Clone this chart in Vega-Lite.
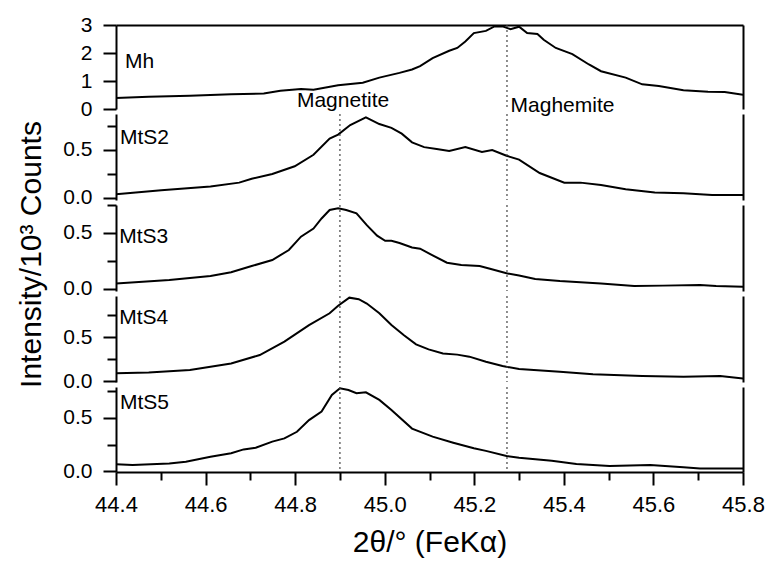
{
  "$schema": "https://vega.github.io/schema/vega-lite/v6.json",
  "background": "white",
  "padding": {"left": 16, "top": 14, "right": 5, "bottom": 5},
  "bounds": "flush",
  "spacing": 5,
  "datasets": {
    "xrd": [
      {"sample": "Mh", "theta": 44.400, "intensity": 0.39},
      {"sample": "Mh", "theta": 44.473, "intensity": 0.44},
      {"sample": "Mh", "theta": 44.565, "intensity": 0.47},
      {"sample": "Mh", "theta": 44.657, "intensity": 0.53},
      {"sample": "Mh", "theta": 44.730, "intensity": 0.55},
      {"sample": "Mh", "theta": 44.767, "intensity": 0.65},
      {"sample": "Mh", "theta": 44.813, "intensity": 0.71},
      {"sample": "Mh", "theta": 44.841, "intensity": 0.69},
      {"sample": "Mh", "theta": 44.896, "intensity": 0.85},
      {"sample": "Mh", "theta": 44.951, "intensity": 0.94},
      {"sample": "Mh", "theta": 44.988, "intensity": 1.12},
      {"sample": "Mh", "theta": 45.033, "intensity": 1.29},
      {"sample": "Mh", "theta": 45.061, "intensity": 1.41},
      {"sample": "Mh", "theta": 45.079, "intensity": 1.53},
      {"sample": "Mh", "theta": 45.107, "intensity": 1.82},
      {"sample": "Mh", "theta": 45.144, "intensity": 2.08},
      {"sample": "Mh", "theta": 45.162, "intensity": 2.18},
      {"sample": "Mh", "theta": 45.180, "intensity": 2.41},
      {"sample": "Mh", "theta": 45.199, "intensity": 2.71},
      {"sample": "Mh", "theta": 45.226, "intensity": 2.79},
      {"sample": "Mh", "theta": 45.245, "intensity": 2.95},
      {"sample": "Mh", "theta": 45.263, "intensity": 2.95},
      {"sample": "Mh", "theta": 45.281, "intensity": 2.85},
      {"sample": "Mh", "theta": 45.300, "intensity": 2.94},
      {"sample": "Mh", "theta": 45.318, "intensity": 2.71},
      {"sample": "Mh", "theta": 45.341, "intensity": 2.68},
      {"sample": "Mh", "theta": 45.355, "intensity": 2.47},
      {"sample": "Mh", "theta": 45.382, "intensity": 2.18},
      {"sample": "Mh", "theta": 45.419, "intensity": 1.96},
      {"sample": "Mh", "theta": 45.456, "intensity": 1.59},
      {"sample": "Mh", "theta": 45.483, "intensity": 1.35},
      {"sample": "Mh", "theta": 45.538, "intensity": 1.12},
      {"sample": "Mh", "theta": 45.575, "intensity": 0.88},
      {"sample": "Mh", "theta": 45.612, "intensity": 0.82},
      {"sample": "Mh", "theta": 45.667, "intensity": 0.67},
      {"sample": "Mh", "theta": 45.722, "intensity": 0.62},
      {"sample": "Mh", "theta": 45.759, "intensity": 0.61},
      {"sample": "Mh", "theta": 45.800, "intensity": 0.51},

      {"sample": "MtS2", "theta": 44.400, "intensity": 0.04},
      {"sample": "MtS2", "theta": 44.501, "intensity": 0.08},
      {"sample": "MtS2", "theta": 44.611, "intensity": 0.12},
      {"sample": "MtS2", "theta": 44.675, "intensity": 0.16},
      {"sample": "MtS2", "theta": 44.703, "intensity": 0.20},
      {"sample": "MtS2", "theta": 44.749, "intensity": 0.25},
      {"sample": "MtS2", "theta": 44.799, "intensity": 0.33},
      {"sample": "MtS2", "theta": 44.841, "intensity": 0.45},
      {"sample": "MtS2", "theta": 44.877, "intensity": 0.62},
      {"sample": "MtS2", "theta": 44.896, "intensity": 0.66},
      {"sample": "MtS2", "theta": 44.923, "intensity": 0.76},
      {"sample": "MtS2", "theta": 44.958, "intensity": 0.84},
      {"sample": "MtS2", "theta": 44.988, "intensity": 0.77},
      {"sample": "MtS2", "theta": 45.015, "intensity": 0.73},
      {"sample": "MtS2", "theta": 45.038, "intensity": 0.67},
      {"sample": "MtS2", "theta": 45.061, "intensity": 0.58},
      {"sample": "MtS2", "theta": 45.088, "intensity": 0.53},
      {"sample": "MtS2", "theta": 45.116, "intensity": 0.51},
      {"sample": "MtS2", "theta": 45.144, "intensity": 0.49},
      {"sample": "MtS2", "theta": 45.180, "intensity": 0.53},
      {"sample": "MtS2", "theta": 45.217, "intensity": 0.48},
      {"sample": "MtS2", "theta": 45.240, "intensity": 0.50},
      {"sample": "MtS2", "theta": 45.272, "intensity": 0.44},
      {"sample": "MtS2", "theta": 45.300, "intensity": 0.40},
      {"sample": "MtS2", "theta": 45.346, "intensity": 0.26},
      {"sample": "MtS2", "theta": 45.401, "intensity": 0.16},
      {"sample": "MtS2", "theta": 45.437, "intensity": 0.16},
      {"sample": "MtS2", "theta": 45.483, "intensity": 0.135},
      {"sample": "MtS2", "theta": 45.538, "intensity": 0.09},
      {"sample": "MtS2", "theta": 45.603, "intensity": 0.056},
      {"sample": "MtS2", "theta": 45.667, "intensity": 0.05},
      {"sample": "MtS2", "theta": 45.731, "intensity": 0.03},
      {"sample": "MtS2", "theta": 45.800, "intensity": 0.03},

      {"sample": "MtS3", "theta": 44.400, "intensity": 0.05},
      {"sample": "MtS3", "theta": 44.519, "intensity": 0.08},
      {"sample": "MtS3", "theta": 44.611, "intensity": 0.116},
      {"sample": "MtS3", "theta": 44.657, "intensity": 0.149},
      {"sample": "MtS3", "theta": 44.703, "intensity": 0.205},
      {"sample": "MtS3", "theta": 44.749, "intensity": 0.259},
      {"sample": "MtS3", "theta": 44.786, "intensity": 0.348},
      {"sample": "MtS3", "theta": 44.813, "intensity": 0.467},
      {"sample": "MtS3", "theta": 44.841, "intensity": 0.54},
      {"sample": "MtS3", "theta": 44.859, "intensity": 0.63},
      {"sample": "MtS3", "theta": 44.877, "intensity": 0.705},
      {"sample": "MtS3", "theta": 44.896, "intensity": 0.72},
      {"sample": "MtS3", "theta": 44.914, "intensity": 0.705},
      {"sample": "MtS3", "theta": 44.937, "intensity": 0.675},
      {"sample": "MtS3", "theta": 44.960, "intensity": 0.57},
      {"sample": "MtS3", "theta": 44.983, "intensity": 0.476},
      {"sample": "MtS3", "theta": 45.001, "intensity": 0.43},
      {"sample": "MtS3", "theta": 45.015, "intensity": 0.43},
      {"sample": "MtS3", "theta": 45.033, "intensity": 0.41},
      {"sample": "MtS3", "theta": 45.061, "intensity": 0.37},
      {"sample": "MtS3", "theta": 45.079, "intensity": 0.36},
      {"sample": "MtS3", "theta": 45.107, "intensity": 0.30},
      {"sample": "MtS3", "theta": 45.139, "intensity": 0.235},
      {"sample": "MtS3", "theta": 45.171, "intensity": 0.214},
      {"sample": "MtS3", "theta": 45.212, "intensity": 0.205},
      {"sample": "MtS3", "theta": 45.235, "intensity": 0.18},
      {"sample": "MtS3", "theta": 45.272, "intensity": 0.14},
      {"sample": "MtS3", "theta": 45.300, "intensity": 0.12},
      {"sample": "MtS3", "theta": 45.336, "intensity": 0.09},
      {"sample": "MtS3", "theta": 45.391, "intensity": 0.071},
      {"sample": "MtS3", "theta": 45.483, "intensity": 0.05},
      {"sample": "MtS3", "theta": 45.557, "intensity": 0.027},
      {"sample": "MtS3", "theta": 45.621, "intensity": 0.03},
      {"sample": "MtS3", "theta": 45.704, "intensity": 0.036},
      {"sample": "MtS3", "theta": 45.740, "intensity": 0.027},
      {"sample": "MtS3", "theta": 45.800, "intensity": 0.02},

      {"sample": "MtS4", "theta": 44.400, "intensity": 0.087},
      {"sample": "MtS4", "theta": 44.473, "intensity": 0.098},
      {"sample": "MtS4", "theta": 44.565, "intensity": 0.125},
      {"sample": "MtS4", "theta": 44.657, "intensity": 0.20},
      {"sample": "MtS4", "theta": 44.721, "intensity": 0.295},
      {"sample": "MtS4", "theta": 44.776, "intensity": 0.447},
      {"sample": "MtS4", "theta": 44.831, "intensity": 0.636},
      {"sample": "MtS4", "theta": 44.877, "intensity": 0.77},
      {"sample": "MtS4", "theta": 44.896, "intensity": 0.856},
      {"sample": "MtS4", "theta": 44.921, "intensity": 0.947},
      {"sample": "MtS4", "theta": 44.942, "intensity": 0.93},
      {"sample": "MtS4", "theta": 44.960, "intensity": 0.88},
      {"sample": "MtS4", "theta": 44.988, "intensity": 0.77},
      {"sample": "MtS4", "theta": 45.015, "intensity": 0.636},
      {"sample": "MtS4", "theta": 45.043, "intensity": 0.52},
      {"sample": "MtS4", "theta": 45.070, "intensity": 0.417},
      {"sample": "MtS4", "theta": 45.098, "intensity": 0.36},
      {"sample": "MtS4", "theta": 45.130, "intensity": 0.314},
      {"sample": "MtS4", "theta": 45.162, "intensity": 0.30},
      {"sample": "MtS4", "theta": 45.189, "intensity": 0.277},
      {"sample": "MtS4", "theta": 45.226, "intensity": 0.22},
      {"sample": "MtS4", "theta": 45.263, "intensity": 0.17},
      {"sample": "MtS4", "theta": 45.300, "intensity": 0.136},
      {"sample": "MtS4", "theta": 45.391, "intensity": 0.106},
      {"sample": "MtS4", "theta": 45.465, "intensity": 0.076},
      {"sample": "MtS4", "theta": 45.575, "intensity": 0.057},
      {"sample": "MtS4", "theta": 45.667, "intensity": 0.05},
      {"sample": "MtS4", "theta": 45.749, "intensity": 0.057},
      {"sample": "MtS4", "theta": 45.800, "intensity": 0.03},

      {"sample": "MtS5", "theta": 44.400, "intensity": 0.063},
      {"sample": "MtS5", "theta": 44.437, "intensity": 0.057},
      {"sample": "MtS5", "theta": 44.519, "intensity": 0.072},
      {"sample": "MtS5", "theta": 44.556, "intensity": 0.088},
      {"sample": "MtS5", "theta": 44.611, "intensity": 0.135},
      {"sample": "MtS5", "theta": 44.657, "intensity": 0.167},
      {"sample": "MtS5", "theta": 44.685, "intensity": 0.204},
      {"sample": "MtS5", "theta": 44.712, "intensity": 0.22},
      {"sample": "MtS5", "theta": 44.749, "intensity": 0.277},
      {"sample": "MtS5", "theta": 44.776, "intensity": 0.308},
      {"sample": "MtS5", "theta": 44.804, "intensity": 0.37},
      {"sample": "MtS5", "theta": 44.831, "intensity": 0.48},
      {"sample": "MtS5", "theta": 44.859, "intensity": 0.56},
      {"sample": "MtS5", "theta": 44.882, "intensity": 0.717},
      {"sample": "MtS5", "theta": 44.900, "intensity": 0.78},
      {"sample": "MtS5", "theta": 44.919, "intensity": 0.764},
      {"sample": "MtS5", "theta": 44.937, "intensity": 0.733},
      {"sample": "MtS5", "theta": 44.958, "intensity": 0.742},
      {"sample": "MtS5", "theta": 44.988, "intensity": 0.67},
      {"sample": "MtS5", "theta": 45.015, "intensity": 0.575},
      {"sample": "MtS5", "theta": 45.061, "intensity": 0.40},
      {"sample": "MtS5", "theta": 45.107, "intensity": 0.324},
      {"sample": "MtS5", "theta": 45.153, "intensity": 0.267},
      {"sample": "MtS5", "theta": 45.199, "intensity": 0.214},
      {"sample": "MtS5", "theta": 45.226, "intensity": 0.19},
      {"sample": "MtS5", "theta": 45.272, "intensity": 0.142},
      {"sample": "MtS5", "theta": 45.300, "intensity": 0.126},
      {"sample": "MtS5", "theta": 45.373, "intensity": 0.097},
      {"sample": "MtS5", "theta": 45.428, "intensity": 0.066},
      {"sample": "MtS5", "theta": 45.502, "intensity": 0.047},
      {"sample": "MtS5", "theta": 45.593, "intensity": 0.057},
      {"sample": "MtS5", "theta": 45.667, "intensity": 0.035},
      {"sample": "MtS5", "theta": 45.704, "intensity": 0.025},
      {"sample": "MtS5", "theta": 45.800, "intensity": 0.025}
    ]
  },
  "vconcat": [
    {
      "width": 627, "height": 84,
      "resolve": {"axis": {"x": "independent", "y": "independent"}},
      "layer": [
        {
          "data": {"name": "xrd"},
          "transform": [{"filter": "datum.sample === 'Mh'"}],
          "mark": {"type": "line", "color": "black", "strokeWidth": 2, "clip": true},
          "encoding": {
            "x": {"field": "theta", "type": "quantitative", "scale": {"domain": [44.4, 45.8], "nice": false, "zero": false},
                  "axis": {"orient": "top", "ticks": false, "labels": false, "domain": true, "title": null}},
            "y": {"field": "intensity", "type": "quantitative", "scale": {"domain": [0, 3], "nice": false, "zero": false},
                  "axis": {"orient": "left", "values": [0, 1, 2, 3], "format": "d", "tickSize": 13, "labelPadding": 11, "title": null}}
          }
        },
        {
          "data": {"values": [{}]},
          "mark": {"type": "text", "text": "Mh", "align": "left", "baseline": "middle"},
          "encoding": {
            "x": {"datum": 44.42, "type": "quantitative", "axis": null},
            "y": {"datum": 1.68, "type": "quantitative",
                  "axis": {"orient": "right", "ticks": false, "labels": false, "domain": true, "title": null}}
          }
        },
        {
          "data": {"values": [{}]},
          "mark": {"type": "rule", "color": "#444", "strokeWidth": 1.2, "strokeDash": [2, 3]},
          "encoding": {"x": {"datum": 45.273, "type": "quantitative", "axis": null}}
        },
        {
          "data": {"values": [{}]},
          "mark": {"type": "text", "text": "Magnetite", "align": "left", "baseline": "middle"},
          "encoding": {
            "x": {"datum": 44.804, "type": "quantitative", "axis": null},
            "y": {"datum": 0.28, "type": "quantitative", "axis": null}
          }
        },
        {
          "data": {"values": [{}]},
          "mark": {"type": "text", "text": "Maghemite", "align": "left", "baseline": "middle"},
          "encoding": {
            "x": {"datum": 45.281, "type": "quantitative", "axis": null},
            "y": {"datum": 0.11, "type": "quantitative", "axis": null}
          }
        }
      ]
    },
    {
      "width": 627, "height": 86,
      "resolve": {"axis": {"x": "independent", "y": "independent"}},
      "layer": [
        {
          "data": {"name": "xrd"},
          "transform": [{"filter": "datum.sample === 'MtS2'"}],
          "mark": {"type": "line", "color": "black", "strokeWidth": 2, "clip": true},
          "encoding": {
            "x": {"field": "theta", "type": "quantitative", "scale": {"domain": [44.4, 45.8], "nice": false, "zero": false}, "axis": null},
            "y": {"field": "intensity", "type": "quantitative", "scale": {"domain": [-0.021, 0.875], "nice": false, "zero": false},
                  "axis": {"orient": "left", "values": [0, 0.5], "format": ".1f", "tickSize": 13, "labelPadding": 11, "title": null}}
          }
        },
        {
          "data": {"values": [{}]},
          "mark": {"type": "point", "opacity": 0},
          "encoding": {
            "y": {"datum": 0.25, "type": "quantitative",
                  "axis": {"orient": "left", "values": [0.25, 0.75], "tickSize": 9, "labels": false, "domain": false, "title": null}}
          }
        },
        {
          "data": {"values": [{}]},
          "mark": {"type": "text", "text": "MtS2", "align": "left", "baseline": "middle"},
          "encoding": {
            "x": {"datum": 44.409, "type": "quantitative", "axis": null},
            "y": {"datum": 0.625, "type": "quantitative",
                  "axis": {"orient": "right", "ticks": false, "labels": false, "domain": true, "title": null}}
          }
        },
        {
          "data": {"values": [{}]},
          "mark": {"type": "rule", "color": "#444", "strokeWidth": 1.2, "strokeDash": [2, 3]},
          "encoding": {"x": {"datum": 44.9, "type": "quantitative", "axis": null}}
        },
        {
          "data": {"values": [{}]},
          "mark": {"type": "rule", "color": "#444", "strokeWidth": 1.2, "strokeDash": [2, 3]},
          "encoding": {"x": {"datum": 45.273, "type": "quantitative", "axis": null}}
        }
      ]
    },
    {
      "width": 627, "height": 86,
      "resolve": {"axis": {"x": "independent", "y": "independent"}},
      "layer": [
        {
          "data": {"name": "xrd"},
          "transform": [{"filter": "datum.sample === 'MtS3'"}],
          "mark": {"type": "line", "color": "black", "strokeWidth": 2, "clip": true},
          "encoding": {
            "x": {"field": "theta", "type": "quantitative", "scale": {"domain": [44.4, 45.8], "nice": false, "zero": false}, "axis": null},
            "y": {"field": "intensity", "type": "quantitative", "scale": {"domain": [-0.018, 0.75], "nice": false, "zero": false},
                  "axis": {"orient": "left", "values": [0, 0.5], "format": ".1f", "tickSize": 13, "labelPadding": 11,
                           "title": "Intensity/10³ Counts", "titleFontSize": 30, "titlePadding": 16, "titleY": 49}}
          }
        },
        {
          "data": {"values": [{}]},
          "mark": {"type": "point", "opacity": 0},
          "encoding": {
            "y": {"datum": 0.25, "type": "quantitative",
                  "axis": {"orient": "left", "values": [0.25, 0.75], "tickSize": 9, "labels": false, "domain": false, "title": null}}
          }
        },
        {
          "data": {"values": [{}]},
          "mark": {"type": "text", "text": "MtS3", "align": "left", "baseline": "middle"},
          "encoding": {
            "x": {"datum": 44.407, "type": "quantitative", "axis": null},
            "y": {"datum": 0.46, "type": "quantitative",
                  "axis": {"orient": "right", "ticks": false, "labels": false, "domain": true, "title": null}}
          }
        },
        {
          "data": {"values": [{}]},
          "mark": {"type": "rule", "color": "#444", "strokeWidth": 1.2, "strokeDash": [2, 3]},
          "encoding": {"x": {"datum": 44.9, "type": "quantitative", "axis": null}}
        },
        {
          "data": {"values": [{}]},
          "mark": {"type": "rule", "color": "#444", "strokeWidth": 1.2, "strokeDash": [2, 3]},
          "encoding": {"x": {"datum": 45.273, "type": "quantitative", "axis": null}}
        }
      ]
    },
    {
      "width": 627, "height": 86,
      "resolve": {"axis": {"x": "independent", "y": "independent"}},
      "layer": [
        {
          "data": {"name": "xrd"},
          "transform": [{"filter": "datum.sample === 'MtS4'"}],
          "mark": {"type": "line", "color": "black", "strokeWidth": 2, "clip": true},
          "encoding": {
            "x": {"field": "theta", "type": "quantitative", "scale": {"domain": [44.4, 45.8], "nice": false, "zero": false}, "axis": null},
            "y": {"field": "intensity", "type": "quantitative", "scale": {"domain": [-0.011, 0.966], "nice": false, "zero": false},
                  "axis": {"orient": "left", "values": [0, 0.5], "format": ".1f", "tickSize": 13, "labelPadding": 11, "title": null}}
          }
        },
        {
          "data": {"values": [{}]},
          "mark": {"type": "point", "opacity": 0},
          "encoding": {
            "y": {"datum": 0.25, "type": "quantitative",
                  "axis": {"orient": "left", "values": [0.25, 0.75], "tickSize": 9, "labels": false, "domain": false, "title": null}}
          }
        },
        {
          "data": {"values": [{}]},
          "mark": {"type": "text", "text": "MtS4", "align": "left", "baseline": "middle"},
          "encoding": {
            "x": {"datum": 44.407, "type": "quantitative", "axis": null},
            "y": {"datum": 0.716, "type": "quantitative",
                  "axis": {"orient": "right", "ticks": false, "labels": false, "domain": true, "title": null}}
          }
        },
        {
          "data": {"values": [{}]},
          "mark": {"type": "rule", "color": "#444", "strokeWidth": 1.2, "strokeDash": [2, 3]},
          "encoding": {"x": {"datum": 44.9, "type": "quantitative", "axis": null}}
        },
        {
          "data": {"values": [{}]},
          "mark": {"type": "rule", "color": "#444", "strokeWidth": 1.2, "strokeDash": [2, 3]},
          "encoding": {"x": {"datum": 45.273, "type": "quantitative", "axis": null}}
        }
      ]
    },
    {
      "width": 627, "height": 85,
      "resolve": {"axis": {"x": "independent", "y": "independent"}},
      "layer": [
        {
          "data": {"name": "xrd"},
          "transform": [{"filter": "datum.sample === 'MtS5'"}],
          "mark": {"type": "line", "color": "black", "strokeWidth": 2, "clip": true},
          "encoding": {
            "x": {"field": "theta", "type": "quantitative", "scale": {"domain": [44.4, 45.8], "nice": false, "zero": false},
                  "axis": {"orient": "bottom", "values": [44.4, 44.6, 44.8, 45.0, 45.2, 45.4, 45.6, 45.8], "format": ".1f",
                           "tickSize": 13, "labelPadding": 9, "labelFontSize": 22,
                           "title": "2θ/° (FeKα)", "titleFontSize": 30, "titlePadding": 12}},
            "y": {"field": "intensity", "type": "quantitative", "scale": {"domain": [-0.009, 0.792], "nice": false, "zero": false},
                  "axis": {"orient": "left", "values": [0, 0.5], "format": ".1f", "tickSize": 13, "labelPadding": 11, "title": null}}
          }
        },
        {
          "data": {"values": [{}]},
          "mark": {"type": "point", "opacity": 0},
          "encoding": {
            "x": {"datum": 44.5, "type": "quantitative",
                  "axis": {"orient": "bottom", "values": [44.5, 44.7, 44.9, 45.1, 45.3, 45.5, 45.7], "tickSize": 8, "labels": false, "domain": false, "title": null}},
            "y": {"datum": 0.25, "type": "quantitative",
                  "axis": {"orient": "left", "values": [0.25, 0.75], "tickSize": 9, "labels": false, "domain": false, "title": null}}
          }
        },
        {
          "data": {"values": [{}]},
          "mark": {"type": "text", "text": "MtS5", "align": "left", "baseline": "middle"},
          "encoding": {
            "x": {"datum": 44.409, "type": "quantitative", "axis": null},
            "y": {"datum": 0.64, "type": "quantitative",
                  "axis": {"orient": "right", "ticks": false, "labels": false, "domain": true, "title": null}}
          }
        },
        {
          "data": {"values": [{}]},
          "mark": {"type": "rule", "color": "#444", "strokeWidth": 1.2, "strokeDash": [2, 3]},
          "encoding": {"x": {"datum": 44.9, "type": "quantitative", "axis": null}}
        },
        {
          "data": {"values": [{}]},
          "mark": {"type": "rule", "color": "#444", "strokeWidth": 1.2, "strokeDash": [2, 3]},
          "encoding": {"x": {"datum": 45.273, "type": "quantitative", "axis": null}}
        }
      ]
    }
  ],
  "config": {
    "view": {"stroke": null},
    "font": "Liberation Sans",
    "axis": {
      "grid": false,
      "domainColor": "black", "domainWidth": 2,
      "tickColor": "black", "tickWidth": 2,
      "labelColor": "black", "labelFont": "Liberation Sans", "labelFontSize": 21,
      "labelFlush": false, "labelOverlap": false, "labelBound": false,
      "titleFont": "Liberation Sans", "titleFontWeight": "normal", "titleColor": "black"
    },
    "text": {"font": "Liberation Sans", "fontSize": 21, "color": "black"}
  }
}
